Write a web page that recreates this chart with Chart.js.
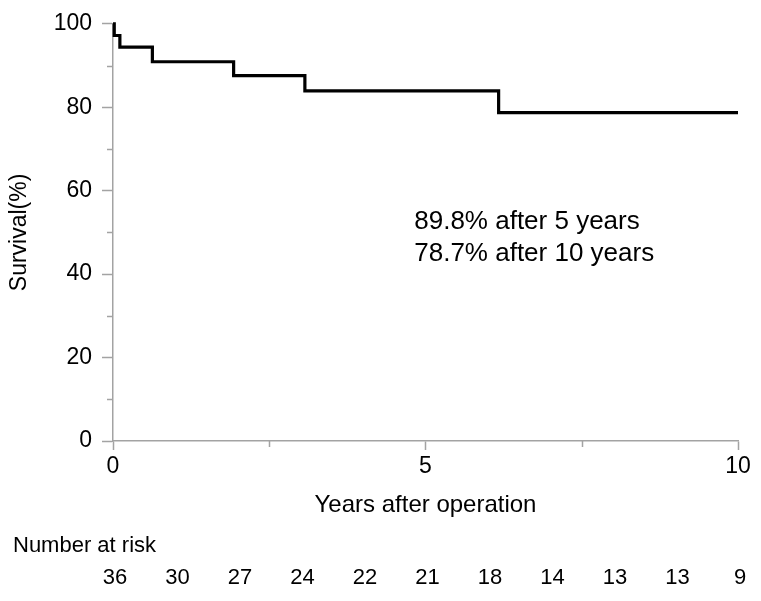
<!DOCTYPE html>
<html>
<head>
<meta charset="utf-8">
<script src="https://cdn.jsdelivr.net/npm/chart.js@4/dist/chart.umd.min.js"></script>
<style>
  html, body { margin: 0; padding: 0; background: #fff; }
  canvas { display: block; }
</style>
</head>
<body>
<canvas id="km" width="761" height="601"></canvas>
<script>
// Kaplan-Meier survival after operation
const times = [0, 0.02, 0.11, 0.63, 1.93, 3.07, 6.17, 10];
const survival = [100, 97.2, 94.4, 90.9, 87.6, 83.9, 78.7, 78.7];
const riskYears = [0, 1, 2, 3, 4, 5, 6, 7, 8, 9, 10];
const atRisk = [36, 30, 27, 24, 22, 21, 18, 14, 13, 13, 9];
const notes = ['89.8% after 5 years', '78.7% after 10 years'];

const FONT = '"Liberation Sans", Arial, sans-serif';
const AXIS = '#a3a3a3';

const extras = {
    id: 'extras',
    afterDraw(chart) {
        const { ctx, scales: { x, y } } = chart;
        ctx.save();

        // minor tick marks
        ctx.strokeStyle = AXIS;
        ctx.lineWidth = 1.5;
        [10, 30, 50, 70, 90].forEach((v) => {
            const py = Math.round(y.getPixelForValue(v)) + 0.5;
            ctx.beginPath();
            ctx.moveTo(x.left - 6, py);
            ctx.lineTo(x.left, py);
            ctx.stroke();
        });
        [2.5, 7.5].forEach((v) => {
            const px = Math.round(x.getPixelForValue(v)) + 0.5;
            ctx.beginPath();
            ctx.moveTo(px, y.bottom);
            ctx.lineTo(px, y.bottom + 6);
            ctx.stroke();
        });

        // survival note
        ctx.fillStyle = '#000';
        ctx.font = '26px ' + FONT;
        ctx.textAlign = 'left';
        ctx.textBaseline = 'alphabetic';
        const nx = x.getPixelForValue(4.82);
        const ny = y.getPixelForValue(50.8);
        notes.forEach((t, i) => ctx.fillText(t, nx, ny + 32 * i));

        // number at risk table
        ctx.font = '22px ' + FONT;
        ctx.fillText('Number at risk', 13, 552);
        ctx.textAlign = 'center';
        ctx.textBaseline = 'middle';
        atRisk.forEach((n, i) => ctx.fillText(String(n), x.getPixelForValue(riskYears[i]) + 2, 578));
        ctx.restore();
    },
};

new Chart(document.getElementById('km').getContext('2d'), {
    type: 'line',
    data: {
        datasets: [{
            data: times.map((t, i) => ({ x: t, y: survival[i] })),
            borderColor: '#000',
            borderWidth: 3.2,
            pointRadius: 0,
            stepped: true,
            fill: false,
            clip: false,
        }],
    },
    options: {
        responsive: false,
        animation: false,
        events: [],
        layout: { padding: { top: 21, right: 23, bottom: 80, left: 0 } },
        plugins: { legend: { display: false }, tooltip: { enabled: false } },
        scales: {
            x: {
                type: 'linear',
                min: 0,
                max: 10,
                afterFit: (s) => { s.height = 80; },
                border: { color: AXIS, width: 1.5 },
                grid: {
                    drawOnChartArea: false,
                    tickLength: 9,
                    tickWidth: 1.5,
                    tickColor: (c) => (c.tick && c.tick.value % 5 === 0 ? AXIS : 'rgba(0,0,0,0)'),
                },
                ticks: {
                    stepSize: 2.5,
                    color: '#000',
                    padding: 3,
                    maxRotation: 0,
                    font: { family: FONT, size: 23 },
                    callback: (v) => (v % 5 === 0 ? v : ''),
                },
                title: {
                    display: true,
                    text: 'Years after operation',
                    color: '#000',
                    font: { family: FONT, size: 24 },
                    padding: { top: 0, bottom: 1 },
                },
            },
            y: {
                min: 0,
                max: 100,
                afterFit: (s) => { s.width = 113; },
                border: { color: AXIS, width: 1.5 },
                grid: {
                    drawOnChartArea: false,
                    tickLength: 11,
                    tickWidth: 1.5,
                    tickColor: (c) => (c.tick && c.tick.value % 20 === 0 ? AXIS : 'rgba(0,0,0,0)'),
                },
                ticks: {
                    stepSize: 10,
                    color: '#000',
                    padding: 10,
                    font: { family: FONT, size: 23 },
                    callback: (v) => (v % 20 === 0 ? v : ''),
                },
                title: {
                    display: true,
                    text: 'Survival(%)',
                    color: '#000',
                    font: { family: FONT, size: 23 },
                    padding: { top: 6, bottom: 0 },
                },
            },
        },
    },
    plugins: [extras],
});
</script>
</body>
</html>
